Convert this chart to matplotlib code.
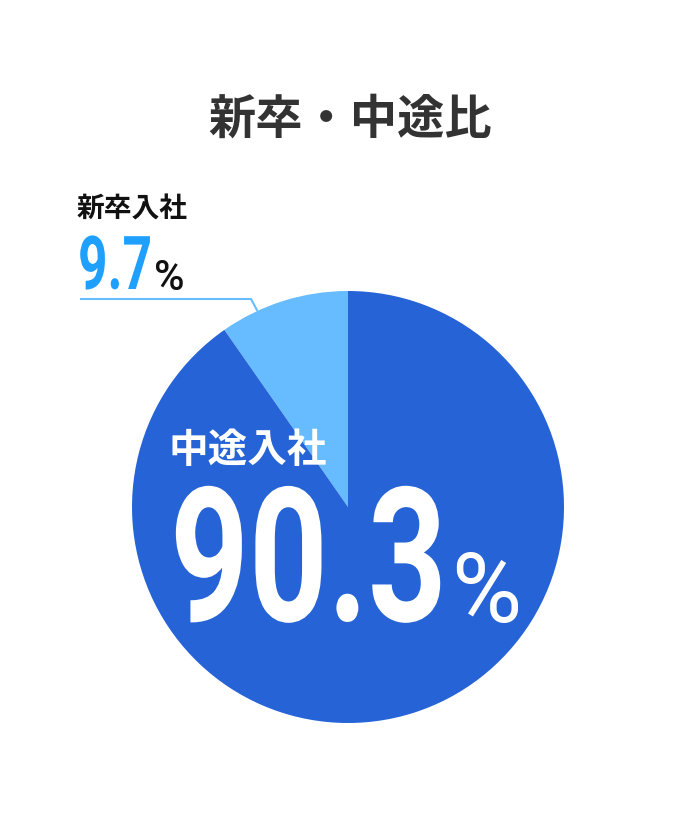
import numpy as np
import matplotlib
matplotlib.use("Agg")
import matplotlib.pyplot as plt
from matplotlib.patheffects import AbstractPathEffect
from matplotlib.transforms import Affine2D, Bbox

# ---- data ----
categories = ["新卒入社", "中途入社"]
values = [9.7, 90.3]
title = "新卒・中途比"

COL_DARK = "#2563d6"
COL_LIGHT = "#66bcff"
COL_TEXT_BLUE = "#1fa0ff"

W, H = 700, 820
fig = plt.figure(figsize=(7, 8.2), dpi=100)
ax = fig.add_axes([0, 0, 1, 1])

cx, cy, r = 348, H - 508, 216
ax.pie(values, colors=[COL_LIGHT, COL_DARK], startangle=90,
       counterclock=True, center=(cx, cy), radius=r,
       wedgeprops=dict(linewidth=0), frame=True)
ax.set_xlim(0, W)
ax.set_ylim(0, H)
ax.set_aspect("equal")
ax.axis("off")

cjk = ["Noto Sans CJK JP", "DejaVu Sans"]
num = ["Roboto", "DejaVu Sans"]
renderer = fig.canvas.get_renderer()


class Condense(AbstractPathEffect):
    """Horizontally compress glyphs about the text's (right) anchor."""
    def __init__(self, text, sx):
        super().__init__()
        self.text, self.sx = text, sx

    def draw_path(self, renderer, gc, tpath, affine, rgbFace=None):
        x0 = self.text.get_transform().transform(self.text.get_position())[0]
        aff = affine + Affine2D().translate(-x0, 0).scale(self.sx, 1).translate(x0, 0)
        renderer.draw_path(gc, tpath, aff, rgbFace)


def condensed_text(x_right, y, s, size, target_w, **kw):
    t = ax.text(x_right, y, s, ha="right", va="baseline", fontsize=size,
                fontweight="bold", family=num, **kw)
    nat = t.get_window_extent(renderer)
    sx = min(1.0, target_w / nat.width)
    t.set_path_effects([Condense(t, sx)])
    orig = t.get_window_extent

    def gwe(renderer=None, dpi=None, _o=orig, _t=t, _s=sx):
        bb = _o(renderer, dpi) if dpi is not None else _o(renderer)
        x0 = _t.get_transform().transform(_t.get_position())[0]
        return Bbox([[x0 + (bb.x0 - x0) * _s, bb.y0], [x0 + (bb.x1 - x0) * _s, bb.y1]])
    t.get_window_extent = gwe
    return t


ax.text(350, H - 120, title, ha="center", va="center", fontsize=34,
        fontweight="bold", color="#333333", family=cjk)

# small slice label
ax.text(77, H - 210, categories[0], ha="left", va="center", fontsize=20,
        fontweight="bold", color="#111111", family=cjk)
condensed_text(152, H - 290, f"{values[0]}", 53.5, 74, color=COL_TEXT_BLUE)
ax.text(154, H - 290, "%", ha="left", va="baseline", fontsize=30,
        fontweight="medium", color="#111111", family=num)

# leader line to wedge
theta = np.deg2rad(90 + 0.71 * values[0] / sum(values) * 360)
ex, ey = cx + r * np.cos(theta), cy + r * np.sin(theta)
ax.plot([80, 251, ex], [H - 300, H - 300, ey], color=COL_LIGHT, lw=1.5,
        solid_capstyle="butt")

# big slice label
ax.text(168, H - 451, categories[1], ha="left", va="center", fontsize=28.5,
        fontweight="bold", color="white", family=cjk)
condensed_text(447, H - 622, f"{values[1]}", 135, 277, color="white")
ax.text(451, H - 622, "%", ha="left", va="baseline", fontsize=69,
        color="white", family=num)

fig.savefig("out.png", dpi=100, facecolor="white")
